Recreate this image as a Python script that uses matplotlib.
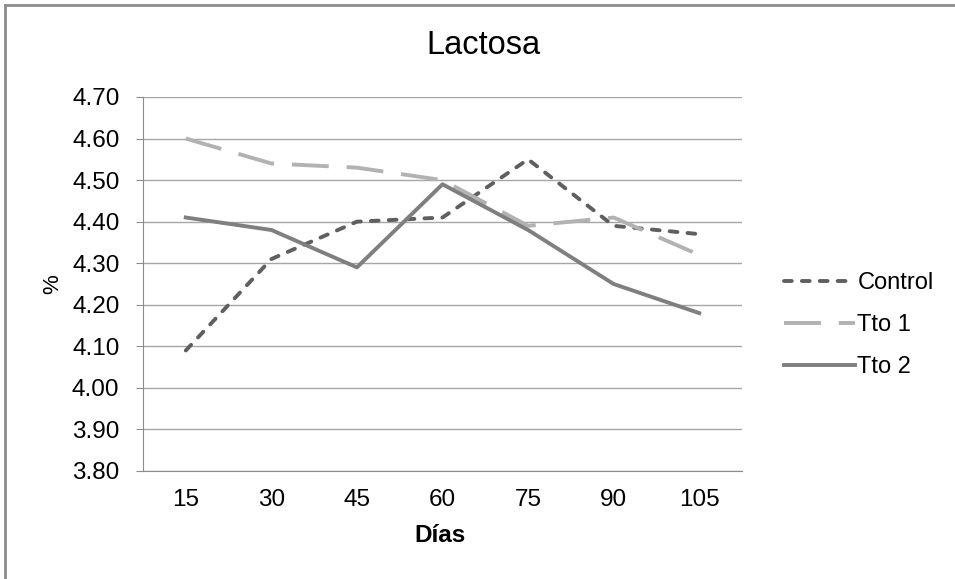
import matplotlib
matplotlib.use("Agg")
import matplotlib.pyplot as plt
from matplotlib.lines import Line2D

plt.rcParams['font.family'] = ['Liberation Sans', 'DejaVu Sans']

dias = [15, 30, 45, 60, 75, 90, 105]
control = [4.09, 4.31, 4.40, 4.41, 4.55, 4.39, 4.37]
tto1 = [4.60, 4.54, 4.53, 4.50, 4.39, 4.41, 4.32]
tto2 = [4.41, 4.38, 4.29, 4.49, 4.38, 4.25, 4.18]
yticks = [3.80, 3.90, 4.00, 4.10, 4.20, 4.30, 4.40, 4.50, 4.60, 4.70]

W, H = 955, 579
fig = plt.figure(figsize=(W / 100, H / 100), dpi=100)
# plot area in pixels: x 143-742, y 97-471
ax = fig.add_axes([143 / W, 1 - 471 / H, (742 - 143) / W, (471 - 97) / H])

# outer chart border (only top and left edges visible in the crop)
border = '#8c8c8c'
fig.lines.append(Line2D([5 / W, 5 / W], [0, 1 - 5 / H], transform=fig.transFigure,
                        color=border, linewidth=2.0))
fig.lines.append(Line2D([5 / W, 1], [1 - 5 / H, 1 - 5 / H], transform=fig.transFigure,
                        color=border, linewidth=2.0))

x = list(range(len(dias)))
ax.plot(x, control, color='#5f5f5f', linewidth=2.8, linestyle=(0, (2.0, 2.6)),
        label='Control', dash_capstyle='round', solid_joinstyle='round')
ax.plot(x, tto1, color='#b2b2b2', linewidth=2.8, linestyle=(0, (9.5, 4.6)),
        label='Tto 1', dash_capstyle='butt')
ax.plot(x, tto2, color='#7f7f7f', linewidth=2.8, label='Tto 2')

ax.set_xlim(-0.5, len(dias) - 0.5)
ax.set_ylim(3.80, 4.70)
ax.set_xticks(x)
ax.set_xticklabels([str(d) for d in dias], fontsize=17.5)
ax.set_yticks(yticks)
ax.set_yticklabels([f'{v:.2f}' for v in yticks], fontsize=17.5)
ax.yaxis.grid(True, color='#a6a6a6', linewidth=1.0)
ax.set_axisbelow(True)
for s in ['top', 'right']:
    ax.spines[s].set_visible(False)
ax.spines['left'].set_color('#8c8c8c')
ax.spines['bottom'].set_color('#8c8c8c')
ax.tick_params(axis='y', length=5, color='#8c8c8c', pad=12)
ax.tick_params(axis='x', length=0, pad=13)

fig.text(440 / W, 1 - 535 / H, 'Días', fontsize=17.5, fontweight='bold', ha='center', va='center')
fig.text(53 / W, 1 - 284 / H, '%', fontsize=16, rotation=90, ha='center', va='center')
fig.text(483 / W, 1 - 45 / H, 'Lactosa', fontsize=23.5, ha='center', va='center')

fig.legend(loc='center left', bbox_to_anchor=(763 / W, 1 - 325 / H), frameon=False,
           fontsize=17, handlelength=3.0, handletextpad=0.1, labelspacing=0.85)

fig.savefig('out.png', dpi=100)
